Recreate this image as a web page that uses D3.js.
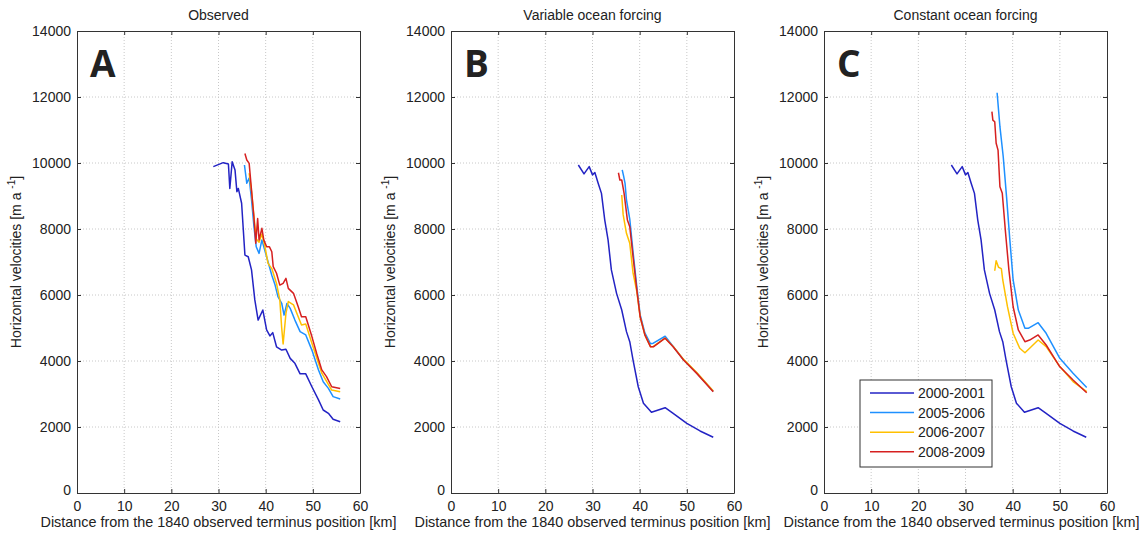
<!DOCTYPE html>
<html>
<head>
<meta charset="utf-8">
<script src="https://cdn.jsdelivr.net/npm/d3@7"></script>
<style>
  body { margin: 0; background: #fff; }
  text { font-family: "Liberation Sans", Arial, sans-serif; fill: #222; }
  .grid line { stroke: #c8c8c8; stroke-dasharray: 1,2; }
</style>
</head>
<body>
<svg id="chart" width="1145" height="535"></svg>
<script>
// panel titles / letters
var titles = ["Observed", "Variable ocean forcing", "Constant ocean forcing"];
var letters = ["A", "B", "C"];
var years = ["2000-2001", "2005-2006", "2006-2007", "2008-2009"];
var colors = ["#2323c4", "#1e90ff", "#ffc000", "#d62020"];
var xTicks = [0, 10, 20, 30, 40, 50, 60];
var yTicks = [0, 2000, 4000, 6000, 8000, 10000, 12000, 14000];

// A: observed
var obsKm2000 = [28.9, 31.0, 32.1, 32.4, 32.9, 33.5, 33.9, 34.2, 34.9, 35.6, 36.3, 37.0, 37.7, 38.4, 39.4, 40.2, 40.9, 41.5, 42.3, 43.4, 44.3, 45.2, 46.2, 47.3, 48.5, 49.8, 51.2, 52.2, 53.3, 54.3, 55.8];
var obsV2000 = [9890, 10010, 9970, 9230, 10040, 9790, 9130, 9230, 8780, 7210, 7160, 6760, 5850, 5240, 5545, 4940, 4760, 4860, 4430, 4330, 4355, 4080, 3930, 3610, 3610, 3220, 2820, 2515, 2415, 2235, 2160];
var obsKm2005 = [35.5, 36.0, 36.5, 37.0, 37.5, 38.0, 38.6, 39.2, 39.8, 40.5, 41.3, 42.0, 42.6, 43.4, 43.9, 44.5, 45.2, 46.2, 47.3, 48.5, 49.8, 51.2, 52.2, 53.3, 54.3, 55.8];
var obsV2005 = [9940, 9385, 9545, 8900, 8100, 7460, 7260, 7670, 7360, 7010, 6600, 6300, 5950, 5750, 5390, 5745, 5595, 5240, 4890, 4790, 4330, 3730, 3370, 3170, 2920, 2850];
var obsKm2006 = [36.5, 37.0, 37.5, 38.0, 38.6, 39.2, 39.8, 40.5, 41.3, 42.3, 43.0, 43.4, 43.7, 44.3, 44.8, 45.9, 46.9, 47.6, 48.5, 49.8, 51.9, 54.0, 55.8];
var obsV2006 = [9690, 9150, 8400, 7700, 7600, 7850, 7500, 6960, 6800, 6350, 5850, 5000, 4515, 5445, 5800, 5700, 5340, 5090, 5120, 4540, 3630, 3120, 3070];
var obsKm2008 = [35.6, 36.0, 36.5, 37.0, 37.5, 37.9, 38.3, 38.6, 39.2, 39.6, 40.2, 40.8, 41.3, 41.6, 42.3, 43.0, 43.7, 44.3, 44.8, 45.9, 46.9, 47.6, 48.5, 49.8, 50.8, 51.9, 52.9, 54.0, 55.8];
var obsV2008 = [10290, 10090, 9990, 9180, 8370, 7570, 8320, 7670, 8020, 7670, 7460, 7460, 7310, 6860, 6660, 6300, 6355, 6505, 6200, 6050, 5645, 5340, 5340, 4740, 4235, 3730, 3525, 3220, 3170];

// B: variable ocean forcing
var varKm2000 = [27.0, 28.2, 29.3, 30.0, 30.5, 31.2, 31.9, 32.6, 33.3, 34.0, 35.1, 36.2, 37.2, 37.9, 38.6, 39.7, 40.8, 42.5, 45.4, 47.1, 50.0, 52.8, 55.6];
var varV2000 = [9940, 9670, 9890, 9640, 9710, 9385, 9080, 8270, 7670, 6760, 6050, 5545, 4890, 4585, 4030, 3220, 2720, 2445, 2585, 2415, 2110, 1880, 1690];
var varKm2005 = [36.3, 36.6, 36.9, 37.2, 37.9, 38.6, 39.4, 40.1, 41.1, 42.3, 42.9, 45.4, 47.1, 49.3, 52.1, 55.6];
var varV2005 = [9790, 9600, 9385, 8880, 8300, 7300, 6250, 5400, 4850, 4520, 4540, 4750, 4440, 4040, 3635, 3080];
var varKm2006 = [36.2, 36.5, 37.2, 37.9, 38.6, 39.4, 40.1, 41.1, 42.3, 42.9, 45.4, 47.1, 49.3, 52.1, 55.6];
var varV2006 = [9030, 8435, 7870, 7565, 6660, 6100, 5340, 4790, 4435, 4440, 4690, 4440, 4050, 3650, 3090];
var varKm2008 = [35.5, 35.8, 36.2, 36.7, 37.4, 37.9, 38.6, 39.4, 40.1, 41.1, 42.3, 42.9, 45.4, 47.1, 49.3, 52.1, 55.6];
var varV2008 = [9705, 9485, 9485, 9080, 8270, 8070, 7160, 6150, 5340, 4790, 4430, 4430, 4690, 4430, 4030, 3625, 3070];

// C: constant ocean forcing
var conKm2000 = varKm2000;
var conV2000 = varV2000;
var conKm2005 = [36.7, 37.3, 38.0, 38.7, 39.4, 40.1, 41.2, 42.6, 43.3, 45.4, 47.1, 50.0, 52.8, 55.7];
var conV2005 = [12130, 11100, 10190, 8980, 7670, 6455, 5545, 4990, 4990, 5160, 4840, 4080, 3630, 3200];
var conKm2006 = [36.2, 36.5, 37.0, 37.6, 37.9, 38.9, 40.1, 41.5, 42.6, 43.6, 45.4, 47.1, 50.0, 52.8, 55.7];
var conV2006 = [6735, 7040, 6840, 6800, 6455, 5645, 4840, 4385, 4250, 4385, 4635, 4435, 3830, 3375, 3070];
var conKm2008 = [35.6, 35.8, 36.2, 36.5, 36.9, 37.3, 37.8, 38.5, 39.2, 40.1, 41.2, 42.6, 43.6, 45.4, 47.1, 50.0, 52.8, 55.7];
var conV2008 = [11555, 11300, 11250, 10600, 10390, 9280, 9080, 7870, 6760, 5645, 4940, 4585, 4635, 4790, 4485, 3825, 3425, 3040];

var panels = [
  [[obsKm2000, obsV2000], [obsKm2005, obsV2005], [obsKm2006, obsV2006], [obsKm2008, obsV2008]],
  [[varKm2000, varV2000], [varKm2005, varV2005], [varKm2006, varV2006], [varKm2008, varV2008]],
  [[conKm2000, conV2000], [conKm2005, conV2005], [conKm2006, conV2006], [conKm2008, conV2008]]
];

var svg = d3.select("#chart");
var lefts = [77, 451, 824];
var xlabShift = [0, 0, -4];
var plotTop = 31, plotBottom = 493, w = 283;
var fs = "14px";

var y = d3.scaleLinear().domain([0, 14000]).range([plotBottom, plotTop]);

panels.forEach(function(series, p){
  var x = d3.scaleLinear().domain([0, 60]).range([lefts[p], lefts[p] + w]);
  var g = svg.append("g");

  // grid
  var grid = g.append("g").attr("class", "grid");
  grid.selectAll(".gx").data(xTicks.slice(1, -1)).enter().append("line")
    .attr("x1", function(d){ return x(d) }).attr("x2", function(d){ return x(d) })
    .attr("y1", plotTop).attr("y2", plotBottom);
  grid.selectAll(".gy").data(yTicks.slice(1, -1)).enter().append("line")
    .attr("y1", function(d){ return y(d) }).attr("y2", function(d){ return y(d) })
    .attr("x1", lefts[p]).attr("x2", lefts[p] + w);

  // axes, ticks pointing inward like matlab
  var xb = g.append("g").attr("transform", "translate(0," + plotBottom + ")")
    .call(d3.axisBottom(x).tickValues(xTicks).tickSizeInner(-4).tickSizeOuter(0).tickPadding(8));
  var xt = g.append("g").attr("transform", "translate(0," + plotTop + ")")
    .call(d3.axisTop(x).tickValues(xTicks).tickSizeInner(-4).tickSizeOuter(0).tickFormat(""));
  var yl = g.append("g").attr("transform", "translate(" + lefts[p] + ",0)")
    .call(d3.axisLeft(y).tickValues(yTicks).tickSizeInner(-4).tickSizeOuter(0).tickPadding(6).tickFormat(d3.format("d")));
  var yr = g.append("g").attr("transform", "translate(" + (lefts[p] + w) + ",0)")
    .call(d3.axisRight(y).tickValues(yTicks).tickSizeInner(-4).tickSizeOuter(0).tickFormat(""));
  [xb, xt, yl, yr].forEach(function(a){
    a.selectAll("path").attr("stroke", "#333");
    a.selectAll("line").attr("stroke", "#333");
    a.selectAll("text").style("font-size", fs).attr("fill", "#222")
      .style("font-family", "'Liberation Sans', Arial, sans-serif");
  });
  // matlab nudges the 0 y-label down
  yl.selectAll(".tick text").filter(function(d){ return d == 0 }).attr("dy", "0.1em");

  var line = d3.line()
    .x(function(d){ return x(d[0]) })
    .y(function(d){ return y(d[1]) });

  series.forEach(function(s, i){
    var pts = s[0].map(function(k, j){ return [k, s[1][j]] });
    g.append("path")
      .datum(pts)
      .attr("d", line)
      .attr("fill", "none")
      .attr("stroke", colors[i])
      .attr("stroke-width", 1.5)
      .attr("stroke-linejoin", "round");
  });

  g.append("text")
    .attr("x", lefts[p] + w / 2).attr("y", 20)
    .attr("text-anchor", "middle")
    .style("font-size", fs)
    .text(titles[p]);

  g.append("text")
    .attr("x", lefts[p] + 13).attr("y", 77)
    .style("font-size", "37px").style("font-weight", "bold")
    .style("font-family", "'Open Sans', 'Liberation Sans', sans-serif")
    .attr("fill", "#000")
    .text(letters[p]);

  g.append("text")
    .attr("x", lefts[p] + w / 2 + xlabShift[p]).attr("y", 527)
    .attr("text-anchor", "middle")
    .style("font-size", "14.4px")
    .text("Distance from the 1840 observed terminus position [km]");

  var ylab = g.append("text")
    .attr("transform", "translate(" + (lefts[p] - 56) + "," + ((plotTop + plotBottom) / 2) + ") rotate(-90)")
    .attr("text-anchor", "middle")
    .style("font-size", fs);
  ylab.append("tspan").text("Horizontal velocities [m a ");
  ylab.append("tspan").attr("dy", -6).style("font-size", "10px").text("-1");
  ylab.append("tspan").attr("dy", 6).text("]");
});

// legend in panel C
var leg = svg.append("g").attr("transform", "translate(860,380)");
leg.append("rect").attr("width", 132).attr("height", 87)
  .attr("fill", "#fff").attr("stroke", "#333");
years.forEach(function(yr, i){
  var ly = 13 + i * 19.6;
  leg.append("line").attr("x1", 10).attr("x2", 54).attr("y1", ly).attr("y2", ly)
    .attr("stroke", colors[i]).attr("stroke-width", 1.5);
  leg.append("text").attr("x", 58).attr("y", ly + 5)
    .style("font-size", fs).text(yr);
});
</script>
</body>
</html>
